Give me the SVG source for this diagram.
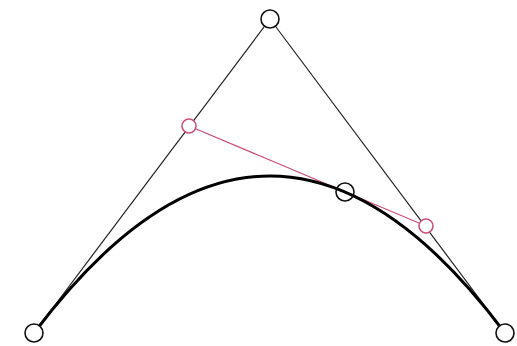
<svg xmlns="http://www.w3.org/2000/svg" width="517" height="346" viewBox="0 0 517 346">
<style>
.thin{stroke:#222;stroke-width:1.2;fill:none}
.pink{stroke:#c9507c;stroke-width:1.2;fill:none}
.curve{stroke:#000;stroke-width:3;fill:none}
.pt{fill:#fff;stroke:#111;stroke-width:1.6}
.ppt{fill:#fff;stroke:#c9507c;stroke-width:1.6}
</style>
<rect width="517" height="346" fill="#fff"/>
<g id="connectors">
<line class="thin" x1="34" y1="333" x2="270" y2="19"/>
<line class="thin" x1="270" y1="19" x2="505" y2="333"/>
<line class="pink" x1="189" y1="126" x2="426" y2="226"/>
<path class="curve" d="M34,333 Q270,19 505,333"/>
</g>
<g id="p0"><circle class="pt" cx="34" cy="333" r="9"/></g>
<g id="p1"><circle class="pt" cx="270" cy="19" r="9"/></g>
<g id="p2"><circle class="pt" cx="505" cy="333" r="9"/></g>
<g id="q0"><circle class="ppt" cx="189" cy="126" r="7"/></g>
<g id="q1"><circle class="ppt" cx="426" cy="226" r="7"/></g>
<g id="b"><circle cx="345" cy="192" r="9" fill="none" stroke="#111" stroke-width="1.6"/></g>
</svg>
